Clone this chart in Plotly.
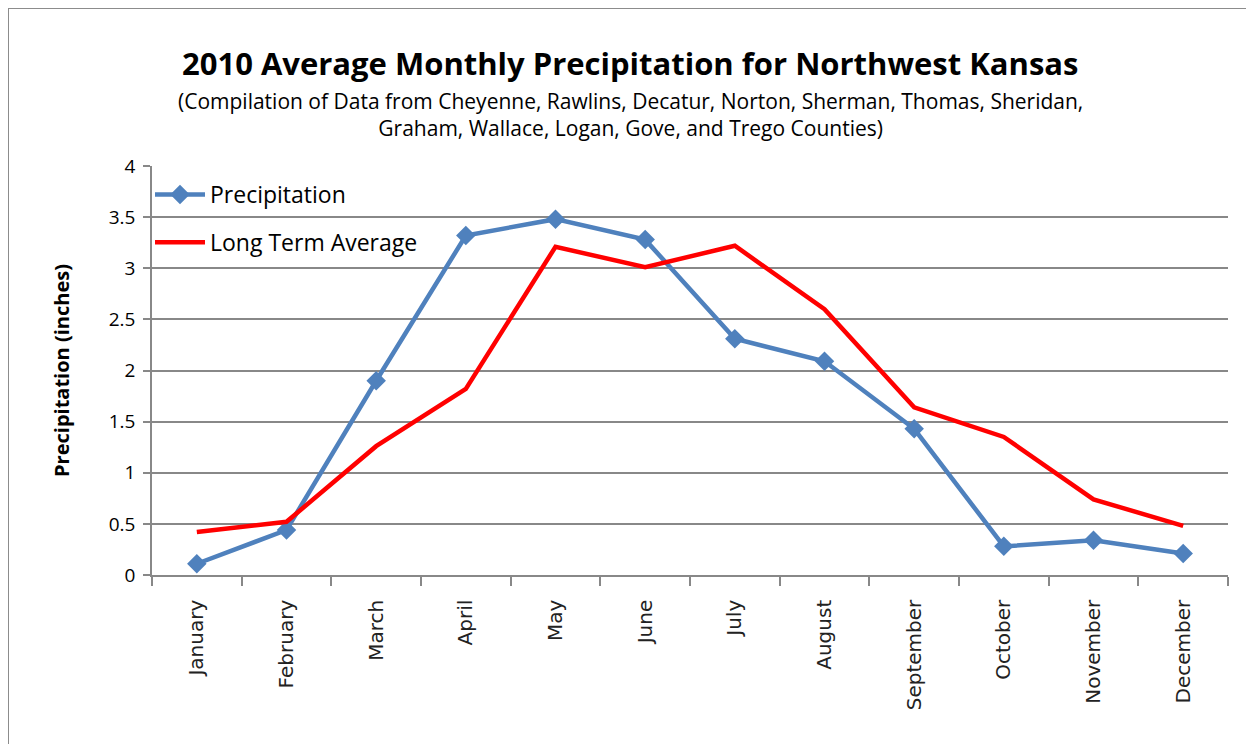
import plotly.graph_objects as go

months = ["January", "February", "March", "April", "May", "June", "July",
          "August", "September", "October", "November", "December"]
precipitation = [0.11, 0.44, 1.90, 3.32, 3.48, 3.28, 2.31, 2.09, 1.43, 0.28, 0.34, 0.21]
long_term_avg = [0.42, 0.52, 1.26, 1.82, 3.21, 3.01, 3.22, 2.60, 1.64, 1.35, 0.74, 0.48]
y_ticks = [0, 0.5, 1, 1.5, 2, 2.5, 3, 3.5, 4]
y_tick_labels = ["0", "0.5", "1", "1.5", "2", "2.5", "3", "3.5", "4"]

# page body adds an 8px offset; targets below are screen pixels
O = 8
W, H = 1254, 744
PL, PR, PT, PB = 152, 1228, 166, 575   # plot area on screen
L, T = PL - O, PT - O
R = W - (PR - O)
B = H - (PB - O)
pw, ph = PR - PL, PB - PT

def px(x):
    return (x - PL) / pw

def py(y):
    return (PB - y) / ph

fig = go.Figure()
fig.add_trace(go.Scatter(
    x=months, y=precipitation, name="Precipitation", mode="lines+markers",
    legendgroup="a",
    line=dict(color="#4F81BD", width=4.5),
    marker=dict(symbol="diamond", size=15, color="#4F81BD"),
))
fig.add_trace(go.Scatter(
    x=months, y=long_term_avg, name="Long Term Average", mode="lines",
    legendgroup="b",
    line=dict(color="#FF0000", width=4.5),
))

fig.update_layout(
    width=W, height=H,
    margin=dict(l=L, r=R, t=T, b=B, autoexpand=False),
    paper_bgcolor="white", plot_bgcolor="white",
    font=dict(family="Open Sans, Liberation Sans, sans-serif", color="black"),
    showlegend=True,
    legend=dict(x=px(150), y=py(173), xanchor="left", yanchor="top",
                bgcolor="rgba(0,0,0,0)", font=dict(size=23, family="Open Sans"),
                itemwidth=50, tracegroupgap=15),
    xaxis=dict(
        type="category", tickangle=-90, tickson="boundaries",
        ticks="outside", ticklen=9, tickcolor="#888888", tickwidth=1.5,
        showline=True, linecolor="#888888", linewidth=1.5,
        showgrid=False, range=[-0.5, 11.5], ticklabelstandoff=15,
        tickfont=dict(family="DejaVu Sans", size=20, color="#222222"),
    ),
    yaxis=dict(
        range=[0, 4], tickvals=y_ticks, ticktext=y_tick_labels,
        ticks="outside", ticklen=7, tickcolor="#888888", tickwidth=1.5,
        showline=True, linecolor="#888888", linewidth=1.5,
        showgrid=True, gridcolor="#888888", gridwidth=1.5,
        zeroline=False, ticklabelstandoff=4,
        tickfont=dict(size=19, family="Open Sans"),
        title=dict(text="<b>Precipitation (inches)</b>", font=dict(size=20, family="Open Sans"), standoff=34),
    ),
)

fig.add_annotation(
    x=px(630), y=py(63), xref="paper", yref="paper", showarrow=False,
    text="<b>2010 Average Monthly Precipitation for Northwest Kansas</b>",
    font=dict(size=31, family="Open Sans"), xanchor="center", yanchor="middle",
)
fig.add_annotation(
    x=px(630), y=py(115), xref="paper", yref="paper", showarrow=False,
    text="(Compilation of Data from Cheyenne, Rawlins, Decatur, Norton, Sherman, Thomas, Sheridan,<br>Graham, Wallace, Logan, Gove, and Trego Counties)",
    font=dict(size=21, family="Open Sans"), xanchor="center", yanchor="middle",
    align="center",
)
fig.add_shape(
    type="rect", xref="paper", yref="paper",
    x0=px(8), x1=px(1400), y0=py(900), y1=py(8),
    line=dict(color="#8c8c8c", width=2), fillcolor="rgba(0,0,0,0)", layer="below",
)

fig.write_html("out.html")
